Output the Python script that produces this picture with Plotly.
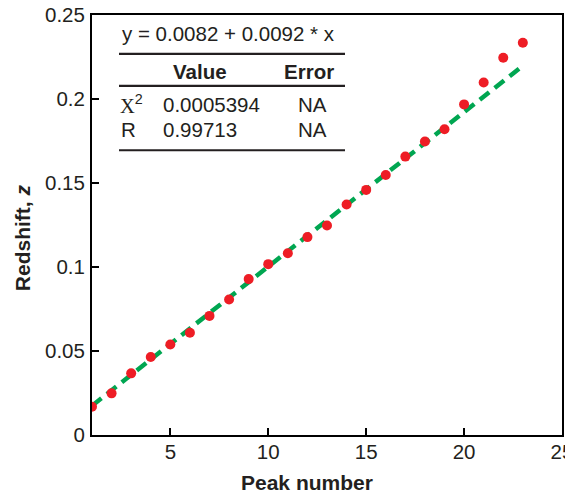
import plotly.graph_objects as go

# ---- data ----
peak_number = list(range(1, 24))
redshift = [0.0168, 0.0248, 0.0367, 0.0464, 0.0539, 0.0609, 0.0709, 0.0807,
            0.0928, 0.1017, 0.1082, 0.1178, 0.1247, 0.1372, 0.1459, 0.1548,
            0.1657, 0.1747, 0.1820, 0.1968, 0.2098, 0.2246, 0.2335]
fit_intercept = 0.0082
fit_slope = 0.0092
fit_x = [1, 23]
fit_y = [fit_intercept + fit_slope * v for v in fit_x]
chi2_value = "0.0005394"
r_value = "0.99713"
x_ticks = [5, 10, 15, 20, 25]
y_ticks = [0, 0.05, 0.1, 0.15, 0.2, 0.25]

W, H = 565, 493
PL, PR, PT, PB = 92, 562, 14.6, 435   # plot area in window pixels
L, R, T, B = PL, W - PR, PT, H - PB


def px(x):
    return (x - PL) / (PR - PL)


def py(y):
    return (PB - y) / (PB - PT)


FONT = "Liberation Sans, Arial, sans-serif"
INK = "#231F20"
RED = "#EE1D25"
GREEN = "#00A651"

fig = go.Figure()
fig.add_trace(go.Scatter(x=fit_x, y=fit_y, mode="lines",
                         line=dict(color=GREEN, width=4.5, dash="12px,7px"),
                         hoverinfo="skip", showlegend=False))
fig.add_trace(go.Scatter(x=peak_number, y=redshift, mode="markers",
                         marker=dict(color=RED, size=10, line=dict(width=0)),
                         showlegend=False))

axis_common = dict(showgrid=False, zeroline=False, showline=True, linecolor="black",
                   linewidth=2, mirror=True, ticks="inside", ticklen=7, tickwidth=2,
                   tickcolor="black", ticklabeloverflow="allow", automargin=False,
                   tickfont=dict(family=FONT, size=20.5, color=INK))
fig.update_xaxes(range=[1, 25], tickvals=x_ticks, ticklabelstandoff=-3, **axis_common)
fig.update_yaxes(range=[0, 0.25], tickvals=y_ticks, ticklabelstandoff=1, **axis_common)

shapes = []
for yy in [53.5, 85.5, 150]:
    shapes.append(dict(type="line", xref="paper", yref="paper", x0=px(119), x1=px(345),
                       y0=py(yy), y1=py(yy), line=dict(color=INK, width=2.2)))

tf = dict(family=FONT, size=20.5, color=INK)
tfb = dict(family=FONT, size=20.5, color=INK, weight="bold")
ann = []


def add(text, x, y, font, xanchor="left", textangle=0):
    ann.append(dict(text=text, x=px(x), y=py(y), xref="paper", yref="paper",
                    showarrow=False, xanchor=xanchor, yanchor="middle", font=font,
                    textangle=textangle))


add("y = 0.0082 + 0.0092 * x", 120, 33, tf)
add("Value", 200, 71, tfb, "center")
add("Error", 309, 71, tfb, "center")
add('<span style="font-family:Liberation Serif, Times New Roman, serif">Χ</span><sup>2</sup>', 118, 104, tf)
add(chi2_value, 161, 104, tf)
add("NA", 312, 104, tf, "center")
add("R", 119, 129, tf)
add(r_value, 161, 129, tf)
add("NA", 312, 129, tf, "center")
add("<b>Peak number</b>", 307, 483, dict(family=FONT, size=21, color=INK), "center")
add("<b>Redshift, <i>z</i></b>", 22, 238, dict(family=FONT, size=21, color=INK), "center", -90)

fig.update_layout(width=W, height=H, margin=dict(l=L, r=R, t=T, b=B),
                  paper_bgcolor="white", plot_bgcolor="white",
                  shapes=shapes, annotations=ann, showlegend=False)

fig.write_html("out.html", config={"displayModeBar": False},
               post_script="document.body.style.margin='0';document.body.style.overflow='hidden';")
